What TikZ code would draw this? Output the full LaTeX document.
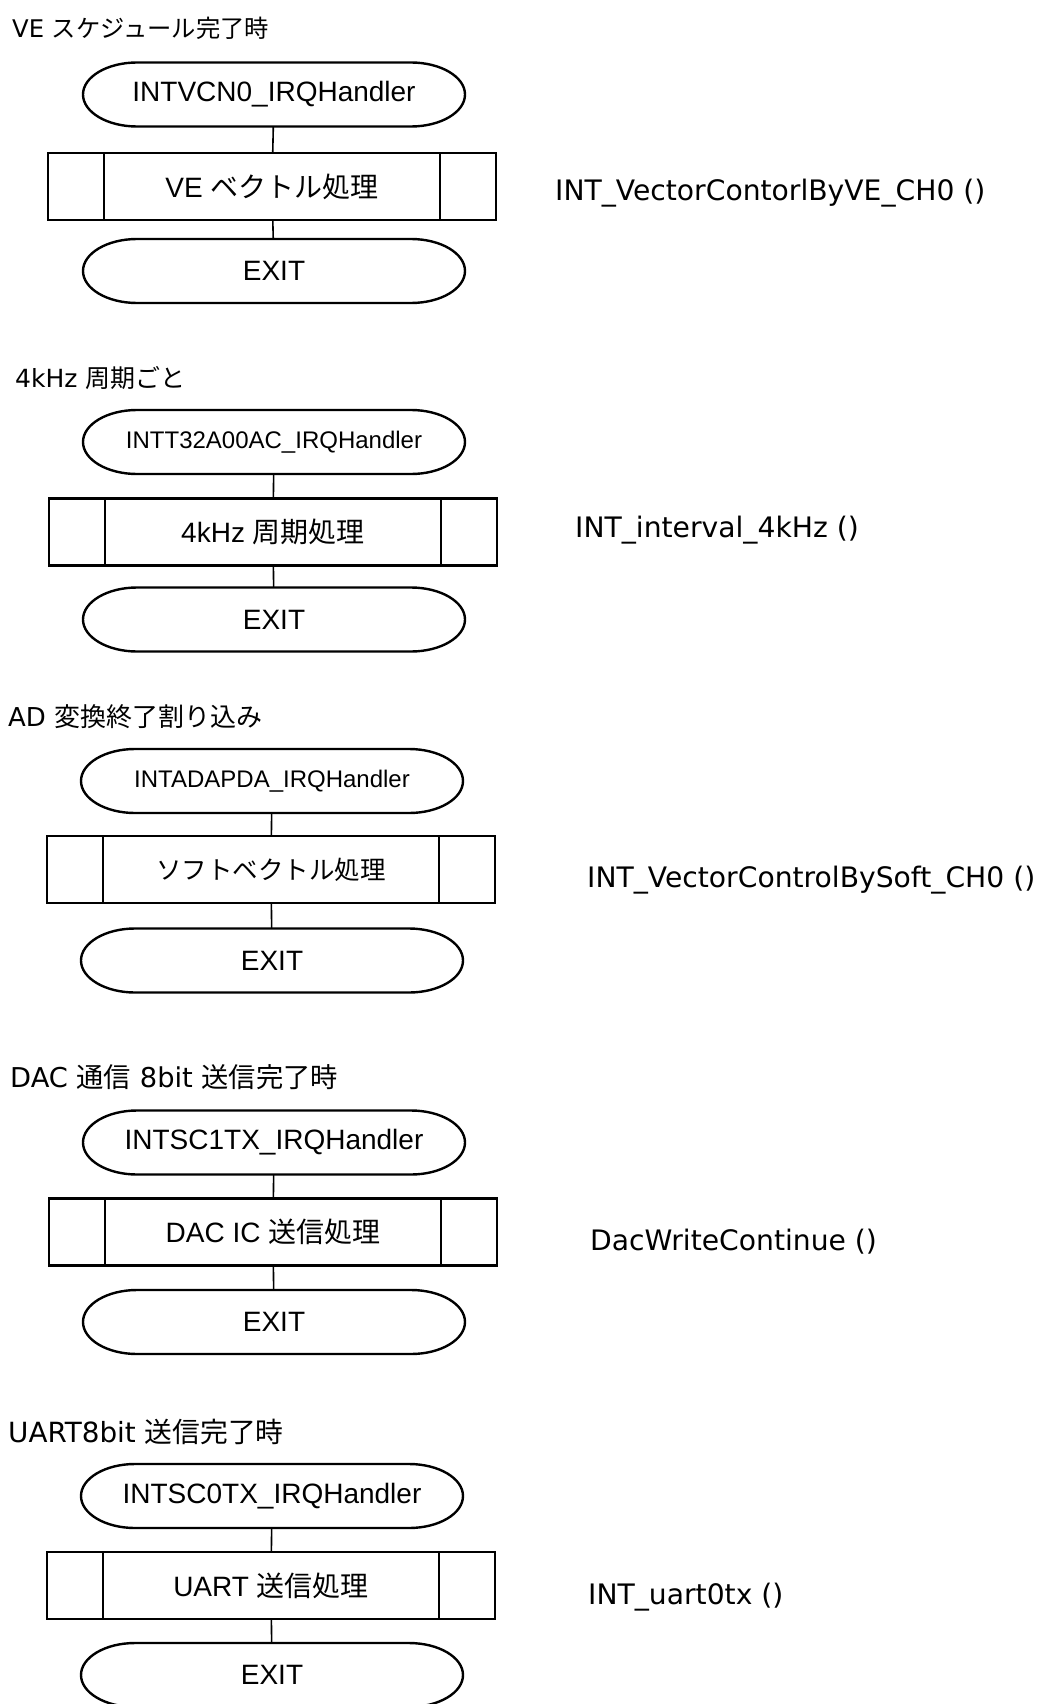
\documentclass[tikz,border=0pt]{standalone}
\usepackage{fontspec}
\setmainfont{Liberation Sans}
\newfontfamily\jp{Noto Sans CJK JP}
\newfontfamily\lat{DejaVu Sans}
\usetikzlibrary{shapes}

\begin{document}
\begin{tikzpicture}[
    x=1pt, y=1pt,
    text centered,
	terminal/.style={
	  rectangle,
	  minimum width=382pt,
	  minimum height=64pt,
	  inner sep=0pt,
	  outer sep=0pt,
	  font=\fontsize{28}{32}\selectfont
	},
	process/.style={
	  rectangle,
	  draw,
	  line width=2.4pt,
	  minimum width=448pt,
	  minimum height=67pt,
	  inner sep=0pt,
	  outer sep=0pt,
	  font=\fontsize{28}{32}\selectfont
	},
	title/.style={
	  anchor=west,
	  inner sep=0pt,
	  font=\lat\fontsize{#1}{30}\selectfont
	},
	func/.style={
	  anchor=west,
	  inner sep=0pt,
	  font=\lat\fontsize{28.2}{30}\selectfont
	},
	small/.style={font=\fontsize{24}{28}\selectfont},
 	line/.style={draw, line width=1.6pt}
	]
	\useasboundingbox (0,0) rectangle (1041,-1704);
	\node at (12, -28) [title=24.3] (title1) {VE {\jp スケジュール完了時}};
	\node at (274, -94.5) [terminal] (irq1) {INTVCN0\_IRQHandler};
	\node at (272, -186.5) [process] (proc1) {VE {\jp ベクトル処理}};
	\node at (274, -271) [terminal] (exit1) {EXIT};
	\node at (555, -193) [func] (func1) {INT\_VectorContorlByVE\_CH0 ()};
	\node at (15, -378) [title=25] (title2) {4kHz {\jp 周期ごと}};
	\node at (274, -442) [terminal, small] (irq2) {INTT32A00AC\_IRQHandler};
	\node at (273, -532) [process] (proc2) {4kHz {\jp 周期処理}};
	\node at (274, -619.5) [terminal] (exit2) {EXIT};
	\node at (575, -530) [func] (func2) {INT\_interval\_4kHz ()};
	\node at (8, -717) [title=26] (title3) {AD {\jp 変換終了割り込み}};
	\node at (272, -781) [terminal, small] (irq3) {INTADAPDA\_IRQHandler};
	\node at (271, -869.5) [process] (proc3) {\jp\fontsize{25.5}{30}\selectfont ソフトベクトル処理};
	\node at (272, -960.5) [terminal] (exit3) {EXIT};
	\node at (587, -880) [func] (func3) {INT\_VectorControlBySoft\_CH0 ()};
	\node at (10, -1077) [title=27.3] (title4) {DAC {\jp 通信} 8bit {\jp 送信完了時}};
	\node at (274, -1142.5) [terminal] (irq4) {INTSC1TX\_IRQHandler};
	\node at (273, -1232) [process] (proc4) {DAC IC {\jp 送信処理}};
	\node at (274, -1322) [terminal] (exit4) {EXIT};
	\node at (590, -1242) [func] (func4) {DacWriteContinue ()};
	\node at (8, -1432) [title=27.8] (title5) {UART8bit {\jp 送信完了時}};
	\node at (272, -1496) [terminal] (irq5) {INTSC0TX\_IRQHandler};
	\node at (271, -1585.5) [process] (proc5) {UART {\jp 送信処理}};
	\node at (272, -1675) [terminal] (exit5) {EXIT};
	\node at (588, -1597) [func] (func5) {INT\_uart0tx ()};
	\foreach \t in {irq1, exit1, irq2, exit2, irq3, exit3, irq4, exit4, irq5, exit5}
	  \draw [line width=2.4pt] ([xshift=54pt]\t.north west) -- ([xshift=-54pt]\t.north east)
	    arc [start angle=90, end angle=-90, x radius=54, y radius=32]
	    -- ([xshift=54pt]\t.south west)
	    arc [start angle=270, end angle=90, x radius=54, y radius=32] -- cycle;
	\foreach \p in {proc1, proc2, proc3, proc4, proc5}
	  \draw [line width=1.8pt] ([xshift=56pt]\p.north west) -- ([xshift=56pt]\p.south west)
	    ([xshift=-56pt]\p.north east) -- ([xshift=-56pt]\p.south east);
	\foreach \i in {1,...,5} {
	  \path [line] (irq\i) -- (proc\i);
	  \path [line] (proc\i) -- (exit\i);
	}
  \end{tikzpicture}
\end{document}
